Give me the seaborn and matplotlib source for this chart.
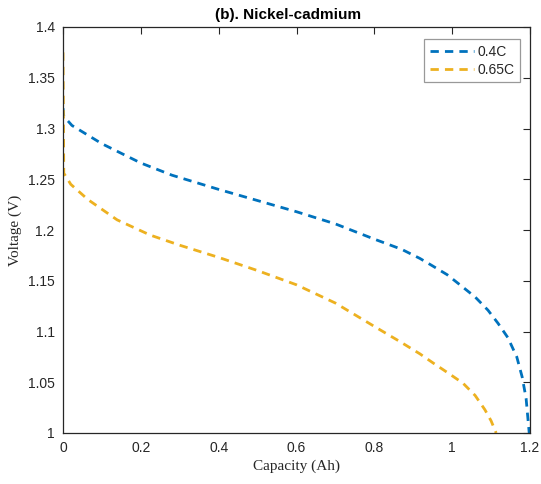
import matplotlib
matplotlib.use("Agg")
import matplotlib.pyplot as plt
import seaborn as sns
import pandas as pd

# Data
cap_04 = [0.0, 0.002, 0.023, 0.1, 0.2, 0.28, 0.4, 0.5, 0.6, 0.7, 0.8, 0.87, 0.917, 0.948, 0.987, 1.02, 1.059, 1.092, 1.118, 1.143, 1.166, 1.18, 1.19, 1.198]
volt_04 = [1.32, 1.312, 1.303, 1.285, 1.266, 1.254, 1.24, 1.229, 1.218, 1.206, 1.191, 1.181, 1.172, 1.165, 1.156, 1.146, 1.134, 1.121, 1.108, 1.094, 1.075, 1.055, 1.034, 1.0]

cap_065 = [0.0, 0.002, 0.02, 0.064, 0.139, 0.224, 0.3, 0.4, 0.5, 0.6, 0.7, 0.8, 0.866, 0.917, 0.951, 0.99, 1.028, 1.059, 1.084, 1.1, 1.113]
volt_065 = [1.375, 1.256, 1.245, 1.23, 1.21, 1.195, 1.185, 1.173, 1.16, 1.146, 1.128, 1.105, 1.090, 1.078, 1.069, 1.059, 1.049, 1.037, 1.023, 1.012, 1.0]

labels = ["0.4C", "0.65C"]
x_ticks = [0, 0.2, 0.4, 0.6, 0.8, 1, 1.2]
x_ticklabels = ["0", "0.2", "0.4", "0.6", "0.8", "1", "1.2"]
y_ticks = [1, 1.05, 1.1, 1.15, 1.2, 1.25, 1.3, 1.35, 1.4]
y_ticklabels = ["1", "1.05", "1.1", "1.15", "1.2", "1.25", "1.3", "1.35", "1.4"]

df = pd.concat([
    pd.DataFrame({"Capacity": cap_04, "Voltage": volt_04, "Rate": labels[0]}),
    pd.DataFrame({"Capacity": cap_065, "Voltage": volt_065, "Rate": labels[1]}),
], ignore_index=True)

sns.set_style("white")
plt.rcParams["font.family"] = ["Liberation Sans", "DejaVu Sans"]

fig = plt.figure(figsize=(5.41, 4.84), dpi=100)
ax = fig.add_axes([63/541, 51/484, (530-63)/541, (433-27)/484])

palette = {"0.4C": "#0072BD", "0.65C": "#EDB120"}
sns.lineplot(data=df, x="Capacity", y="Voltage", hue="Rate", palette=palette,
             sort=False, estimator=None, linewidth=2, ax=ax, legend=True)
for line in ax.get_lines():
    line.set_linestyle((0, (3, 2.2)))

ax.set_xlim(0, 1.2)
ax.set_ylim(1, 1.4)
ax.set_xticks(x_ticks)
ax.set_xticklabels(x_ticklabels)
ax.set_yticks(y_ticks)
ax.set_yticklabels(y_ticklabels)
ax.tick_params(direction="in", length=5, width=0.8, colors="#262626", labelsize=10,
               top=True, right=True, labeltop=False, labelright=False, pad=6)
for s in ax.spines.values():
    s.set_color("#262626")
    s.set_linewidth(0.9)

ax.set_xlabel("Capacity (Ah)", fontfamily="Liberation Serif", fontsize=11, color="#262626", labelpad=3)
ax.set_ylabel("Voltage (V)", fontfamily="Liberation Serif", fontsize=11, color="#262626", labelpad=4)
ax.set_title("(b). Nickel-cadmium", fontweight="bold", fontsize=11, color="black", pad=6,
             x=(288-63)/(530-63))

handles, lbls = ax.get_legend_handles_labels()
for h in handles:
    h.set_linestyle((0, (3, 2.2)))
leg = ax.legend(handles, lbls, loc="upper right", bbox_to_anchor=(0.978, 0.97), frameon=True,
                fancybox=False, edgecolor="#808080", fontsize=10, handlelength=3.2,
                handletextpad=0.2, borderpad=0.4, labelspacing=0.3, borderaxespad=0)
leg.get_frame().set_linewidth(0.9)

fig.savefig("out.png", dpi=100)
